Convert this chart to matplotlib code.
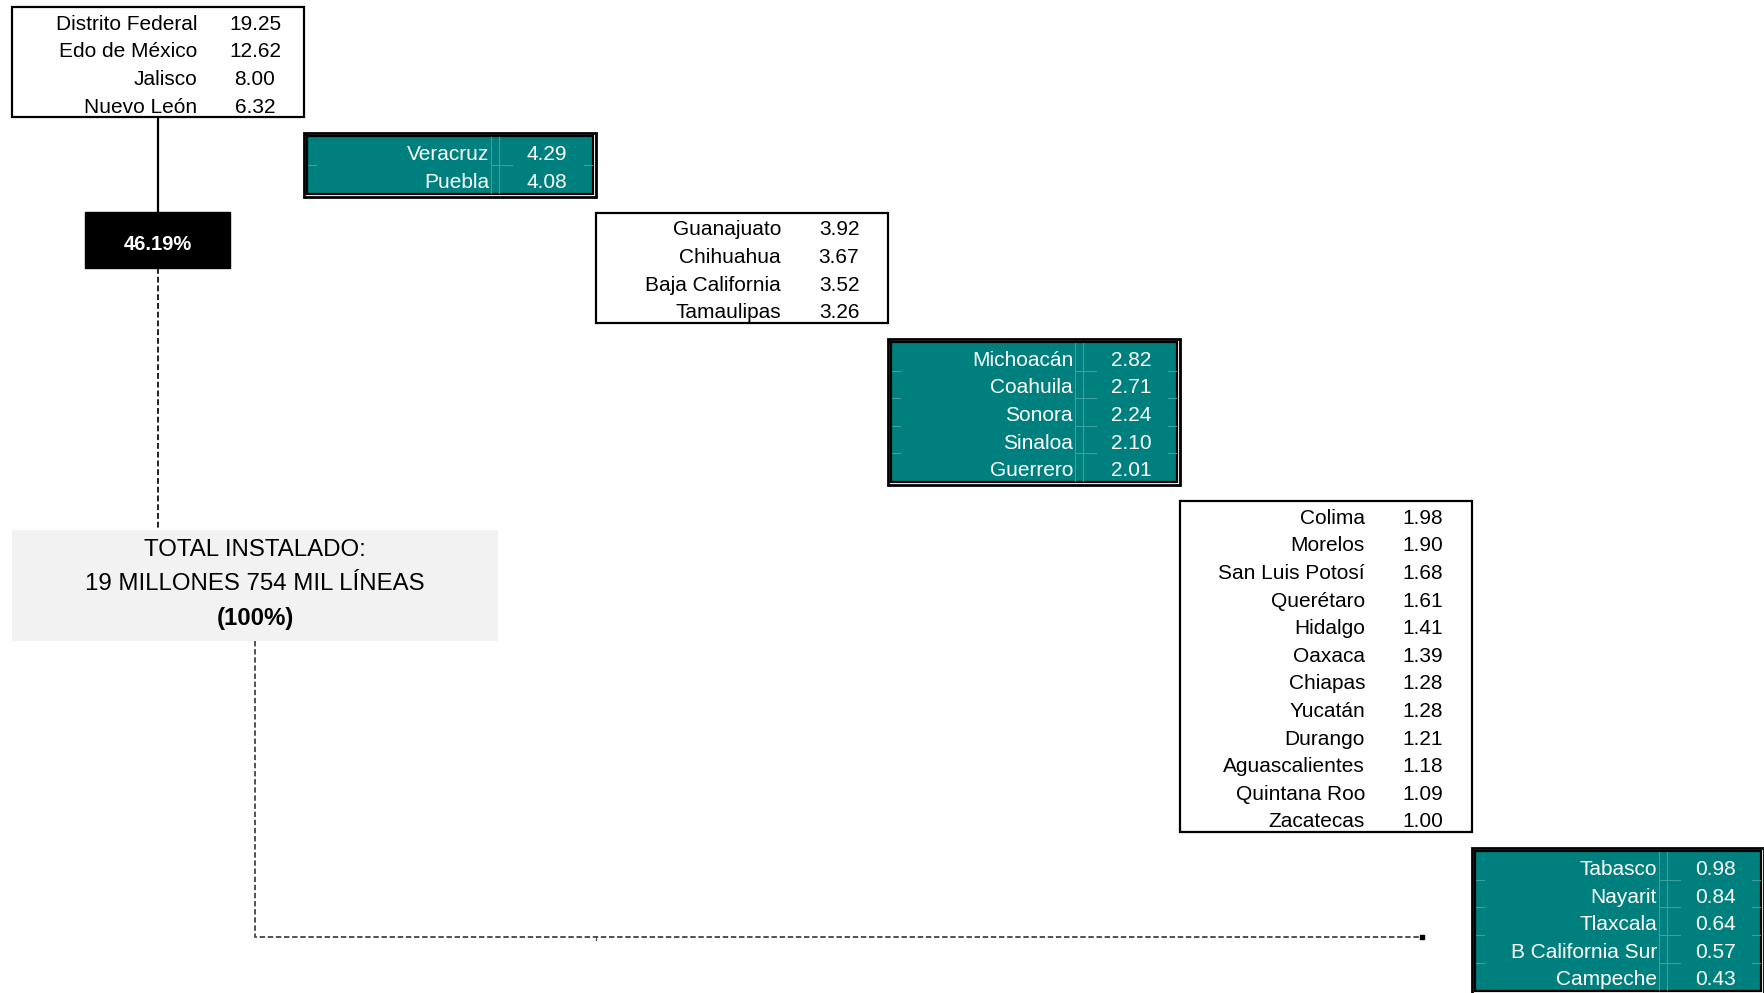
import matplotlib
matplotlib.use('Agg')
import matplotlib.pyplot as plt
from matplotlib.patches import Rectangle

#-----------------------------------------------------#

plt.rcParams['font.family'] = ['Liberation Sans Narrow', 'Liberation Sans', 'DejaVu Sans']

# Datos: porcentaje de lineas instaladas por entidad
grupo1 = ['Distrito Federal', 'Edo de México', 'Jalisco', 'Nuevo León']
valores1 = [19.25, 12.62, 8.00, 6.32]
grupo2 = ['Veracruz', 'Puebla']
valores2 = [4.29, 4.08]
grupo3 = ['Guanajuato', 'Chihuahua', 'Baja California', 'Tamaulipas']
valores3 = [3.92, 3.67, 3.52, 3.26]
grupo4 = ['Michoacán', 'Coahuila', 'Sonora', 'Sinaloa', 'Guerrero']
valores4 = [2.82, 2.71, 2.24, 2.10, 2.01]
grupo5 = ['Colima', 'Morelos', 'San Luis Potosí', 'Querétaro', 'Hidalgo', 'Oaxaca',
          'Chiapas', 'Yucatán', 'Durango', 'Aguascalientes', 'Quintana Roo', 'Zacatecas']
valores5 = [1.98, 1.90, 1.68, 1.61, 1.41, 1.39, 1.28, 1.28, 1.21, 1.18, 1.09, 1.00]
grupo6 = ['Tabasco', 'Nayarit', 'Tlaxcala', 'B California Sur', 'Campeche']
valores6 = [0.98, 0.84, 0.64, 0.57, 0.43]

top4_pct = '46.19%'
total_txt = ['TOTAL INSTALADO:', '19 MILLONES 754 MIL LÍNEAS', '(100%)']

#-----------------------------------------------------#

TEAL = '#007f7f'
GRID = '#3f9f9f'
W, H = 1764, 993
ROW_H = 27.6
BOX_W = 292
FS = 15

fig = plt.figure(figsize=(W / 100, H / 100), dpi=100)
ax = fig.add_axes([0, 0, 1, 1])
ax.set_xlim(0, W)
ax.set_ylim(H, 0)
ax.set_axis_off()

grupos = [(grupo1, valores1), (grupo2, valores2), (grupo3, valores3),
          (grupo4, valores4), (grupo5, valores5), (grupo6, valores6)]

left = 12
top = 7
for i, (nombres, vals) in enumerate(grupos):
    teal = (i % 2 == 1)
    pad = 4 if teal else 0
    alto = len(nombres) * ROW_H + 2 * pad
    if teal:
        # doble borde tipo Excel
        ax.add_patch(Rectangle((left, top), BOX_W, alto, facecolor='white',
                               edgecolor='black', lw=2.0, zorder=2))
        ax.add_patch(Rectangle((left + 3, top + 3), BOX_W - 6, alto - 6, facecolor=TEAL,
                               edgecolor='black', lw=1.6, zorder=3))
        # lineas de cuadricula tenues
        for dx in (187, 195):
            ax.plot([left + dx, left + dx], [top + 4, top + alto - 4], color=GRID,
                    lw=0.8, zorder=4)
        for k in range(1, len(nombres)):
            yk = top + pad + k * ROW_H
            ax.plot([left + 4, left + 12], [yk, yk], color=GRID, lw=0.8, zorder=4)
            ax.plot([left + 187, left + 208], [yk, yk], color=GRID, lw=0.8, zorder=4)
            ax.plot([left + BOX_W - 12, left + BOX_W - 4], [yk, yk], color=GRID, lw=0.8, zorder=4)
        col = 'white'
    else:
        ax.add_patch(Rectangle((left, top), BOX_W, alto, facecolor='white',
                               edgecolor='black', lw=1.6, zorder=2))
        col = 'black'
    for k, (n, v) in enumerate(zip(nombres, vals)):
        yc = top + pad + (k + 0.5) * ROW_H + 3.5
        ax.text(left + 185, yc, n, ha='right', va='center', fontsize=FS, color=col, zorder=5)
        ax.text(left + 243, yc, f'{v:.2f}', ha='center', va='center', fontsize=FS,
                color=col, zorder=5)
    if i == 0:
        bottom1 = top + alto
    top = top + alto + 16
    left = left + BOX_W

# conectores y caja negra
ax.plot([158, 158], [bottom1, 212], color='black', lw=1.6, zorder=1)
ax.add_patch(Rectangle((85, 212), 145, 56, facecolor='black', edgecolor='black', zorder=2))
ax.text(157.5, 245, top4_pct, ha='center', va='center', fontsize=14.5, color='white',
        fontweight='bold', zorder=5)
ax.plot([158, 158], [268, 530], color='#222222', lw=1.4, ls=(0, (3, 1.5)), zorder=1)

# caja total
ax.add_patch(Rectangle((12, 530), 486, 111, facecolor='#f2f2f2', edgecolor='none', zorder=2))
ax.text(255, 550, total_txt[0], ha='center', va='center', fontsize=17.3, zorder=5)
ax.text(255, 584, total_txt[1], ha='center', va='center', fontsize=17.3, zorder=5)
ax.text(255, 618, total_txt[2], ha='center', va='center', fontsize=17.3,
        fontweight='bold', zorder=5)

ax.plot([255, 255, 1422], [641, 937, 937], color='#444444', lw=1.3, ls=(0, (3, 1.5)), zorder=1)
ax.plot([1422], [937], marker='s', ms=3.5, color='black', zorder=2)
ax.plot([596, 596], [936, 940], color='#444444', lw=0.8, zorder=1)

fig.savefig('out.png', dpi=100)
